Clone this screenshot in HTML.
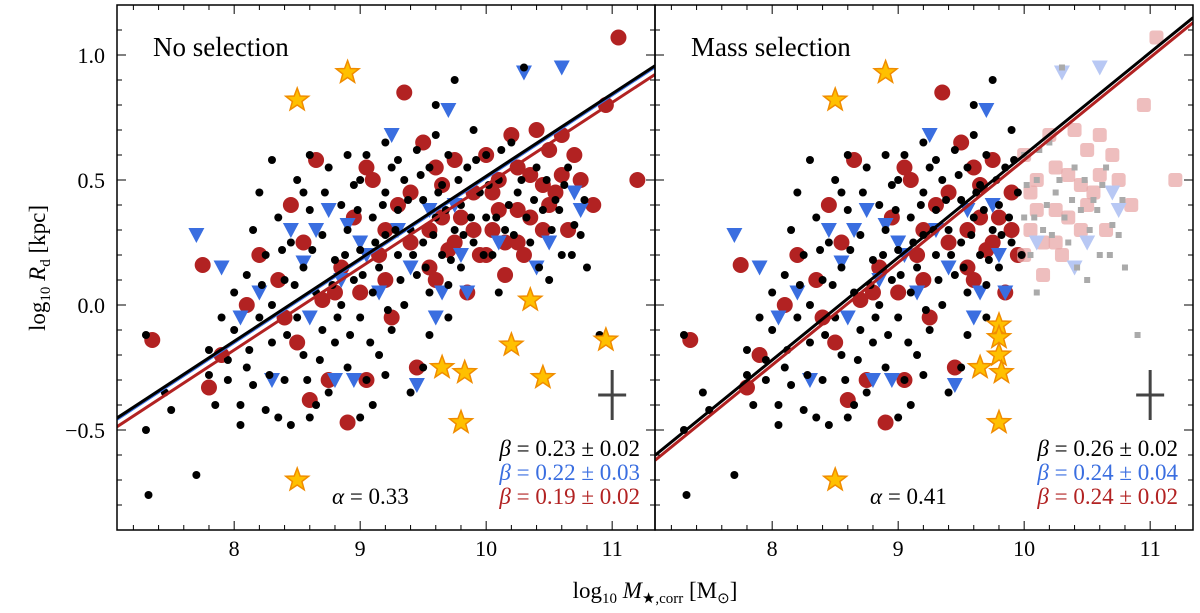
<!DOCTYPE html>
<html><head><meta charset="utf-8"><style>
html,body{margin:0;padding:0;background:#fff;}
svg{display:block;font-family:"Liberation Serif",serif;}
</style></head><body>
<svg id="chart" width="1200" height="613" viewBox="0 0 1200 613" xmlns="http://www.w3.org/2000/svg"></svg>
<script>
const blackPts=[[7.3,-0.12],[7.3,-0.5],[7.32,-0.76],[7.45,-0.35],[7.5,-0.42],[7.7,-0.68],[7.8,-0.18],[7.8,-0.28],[7.85,-0.4],[7.9,-0.05],[7.95,-0.3],[8.0,-0.1],[8.0,0.05],[8.05,-0.4],[8.1,0.12],[8.1,-0.25],[8.15,0.3],[8.2,-0.05],[8.2,0.45],[8.25,0.2],[8.3,-0.15],[8.3,0.0],[8.35,-0.45],[8.35,0.35],[8.4,0.1],[8.4,-0.3],[8.45,0.25],[8.5,-0.05],[8.5,0.5],[8.55,-0.2],[8.55,0.15],[8.6,0.38],[8.6,-0.45],[8.65,0.05],[8.7,-0.1],[8.7,0.28],[8.75,0.55],[8.75,-0.35],[8.8,0.18],[8.8,-0.15],[8.85,0.4],[8.85,0.0],[8.9,-0.25],[8.9,0.3],[8.95,0.1],[8.95,0.48],[9.0,-0.05],[9.0,0.22],[9.05,0.6],[9.05,-0.3],[9.1,0.35],[9.1,0.05],[9.15,0.15],[9.15,-0.2],[9.2,0.45],[9.2,0.28],[9.25,-0.1],[9.25,0.55],[9.3,0.2],[9.3,0.38],[9.35,0.0],[9.35,0.5],[9.4,0.3],[9.4,-0.35],[9.45,0.62],[9.45,0.12],[9.5,0.42],[9.5,0.25],[9.55,0.05],[9.55,0.55],[9.6,0.35],[9.6,0.8],[9.65,0.2],[9.65,0.48],[9.7,0.6],[9.7,-0.05],[9.75,0.3],[9.75,0.9],[9.8,0.4],[9.8,0.15],[9.85,0.55],[9.9,0.25],[9.9,0.7],[9.95,0.45],[10.0,0.35],[10.0,0.6],[10.05,0.2],[10.1,0.5],[10.1,0.05],[10.15,0.3],[10.2,0.65],[10.25,0.45],[10.3,0.95],[10.35,0.25],[10.4,0.55],[10.45,0.38],[10.5,0.1],[10.55,0.42],[10.6,0.2],[10.65,0.55],[10.7,0.32],[10.75,0.28],[10.8,0.15],[10.9,-0.12],[8.3,0.58],[8.6,0.6],[8.9,0.6],[9.2,0.65],[9.6,0.68],[9.1,-0.4],[8.45,-0.48],[8.25,-0.42],[9.5,-0.25],[9.0,-0.45],
[8.12,-0.18],[8.22,0.08],[8.28,-0.28],[8.38,0.22],[8.42,-0.12],[8.48,0.08],[8.58,-0.3],[8.62,0.22],[8.68,-0.22],[8.72,0.45],[8.78,0.08],[8.82,-0.05],[8.88,0.2],[8.92,-0.12],[8.98,0.38],[9.02,0.12],[9.08,-0.15],[9.12,0.25],[9.18,0.4],[9.22,-0.02],[9.28,0.3],[9.32,0.1],[9.38,0.42],[9.42,0.2],[9.48,0.52],[9.52,0.15],[9.58,0.28],[9.62,0.45],[9.68,0.38],[9.72,0.18],[9.78,0.5],[9.82,0.28],[9.88,0.35],[9.92,0.58],[9.98,0.2],[10.02,0.48],[10.08,0.35],[10.12,0.62],[10.18,0.4],[10.22,0.28],[10.28,0.5],[10.32,0.35],[10.38,0.42],[10.42,0.15],[10.48,0.5],[10.52,0.3],[10.58,0.38],[10.62,0.48],[10.68,0.2],[10.78,0.42],[8.05,-0.48],[7.95,-0.22],[8.15,-0.32],[9.0,0.5],[9.3,0.58],[8.65,-0.4],[9.2,-0.28],[9.55,-0.12],[9.7,0.08],[8.55,0.45]];
const redPts=[[7.35,-0.14],[7.75,0.16],[7.8,-0.33],[7.9,-0.2],[8.1,0.0],[8.2,0.2],[8.35,0.1],[8.45,0.4],[8.5,-0.15],[8.55,0.25],[8.6,-0.38],[8.65,0.58],[8.7,0.02],[8.75,-0.3],[8.85,0.15],[8.9,-0.47],[8.95,0.35],[9.0,0.05],[9.05,-0.3],[9.1,0.5],[9.15,0.2],[9.2,0.1],[9.25,-0.05],[9.3,0.4],[9.35,0.85],[9.4,0.25],[9.45,-0.25],[9.5,0.65],[9.55,0.3],[9.6,0.1],[9.65,0.48],[9.7,0.22],[9.75,0.58],[9.8,0.35],[9.85,0.05],[9.9,0.45],[9.95,0.2],[10.0,0.6],[10.05,0.3],[10.1,0.5],[10.15,0.12],[10.2,0.68],[10.25,0.38],[10.3,0.2],[10.35,0.52],[10.4,0.7],[10.45,0.3],[10.5,0.62],[10.55,0.45],[10.6,0.68],[10.65,0.3],[10.7,0.6],[10.75,0.5],[10.85,0.4],[10.95,0.8],[11.05,1.07],[11.2,0.5],[10.15,0.25],[9.05,0.55],[8.4,-0.05],[10.0,0.2],[9.4,0.45],
[9.55,0.15],[9.75,0.25],[9.9,0.3],[10.05,0.45],[10.25,0.55],[10.45,0.48],[10.6,0.52],[10.35,0.35],[10.1,0.38],[9.65,0.35],[9.2,0.3],[8.8,0.05],[9.6,0.55],[10.5,0.4],[10.25,0.25]];
const bluePts=[[7.7,0.28],[7.9,0.15],[8.05,-0.05],[8.2,0.05],[8.3,-0.3],[8.45,0.3],[8.55,0.17],[8.6,-0.05],[8.75,0.38],[8.8,-0.3],[8.85,0.1],[8.9,0.32],[8.95,-0.3],[9.05,0.2],[9.15,0.05],[9.25,0.68],[9.3,0.3],[9.4,0.15],[9.45,-0.32],[9.55,0.38],[9.65,0.05],[9.7,0.78],[9.75,0.4],[9.8,0.2],[9.85,0.05],[10.1,0.25],[10.3,0.93],[10.4,0.15],[10.5,0.25],[10.6,0.95],[10.75,0.38],[10.7,0.45],[9.0,0.25],[8.65,0.3],[9.6,-0.05]];
const starsLeft=[[8.5,0.82],[8.9,0.93],[10.35,0.02],[9.65,-0.25],[9.83,-0.27],[10.2,-0.16],[10.95,-0.14],[10.45,-0.29],[9.8,-0.47],[8.5,-0.70]];
const starsRight=[[8.5,0.82],[8.9,0.93],[9.8,-0.08],[9.8,-0.13],[9.8,-0.2],[9.65,-0.25],[9.82,-0.27],[9.8,-0.47],[8.5,-0.70]];
const xTicks=[8,9,10,11];
const yTicks=[-0.5,0.0,0.5,1.0];
const yTickLabels=["\u22120.5","0.0","0.5","1.0"];
const fitLeft=[{c:"#3a6ee0",a:0.18,b:0.33},{c:"#000",a:0.185,b:0.33},{c:"#b22222",a:0.15,b:0.33}];
const fitRight=[{c:"#b22222",a:0.17,b:0.41},{c:"#000",a:0.19,b:0.41}];
const betaLeft=["0.23 \u00b1 0.02","0.22 \u00b1 0.03","0.19 \u00b1 0.02"];
const betaRight=["0.26 \u00b1 0.02","0.24 \u00b1 0.04","0.24 \u00b1 0.02"];
const alphas=["0.33","0.41"];
const titles=["No selection","Mass selection"];

const NS="http://www.w3.org/2000/svg";
const svg=document.getElementById('chart');
const TOP=5,BOT=530,XMIN=7.07,XMAX=11.34;
function el(t,at,p){const e=document.createElementNS(NS,t);for(const k in at)e.setAttribute(k,at[k]);(p||svg).appendChild(e);return e;}
function Y(v){return 305-250*v;}
function mkX(x0){return v=>x0+(v-XMIN)*(538/(XMAX-XMIN));}
const clipDefs=el('defs',{});
const betaCols=["#000","#3a6ee0","#b22222"];

[0,1].forEach(pi=>{
  const x0=117+pi*538, X=mkX(x0);
  const cp=el('clipPath',{id:'cp'+pi},clipDefs);
  el('rect',{x:x0,y:TOP,width:538,height:BOT-TOP},cp);
  const g=el('g',{'clip-path':'url(#cp'+pi+')'});
  
  
  const faded=v=>pi===1&&v>=10;
  redPts.forEach(p=>{
    let e;
    if(faded(p[0])) e=el('rect',{x:X(p[0])-7,y:Y(p[1])-7,width:14,height:14,rx:3,fill:'#e8a8a8',opacity:0.75},g);
    else e=el('circle',{cx:X(p[0]),cy:Y(p[1]),r:8,fill:'#b22222'},g);
    
    
  });
  bluePts.forEach(p=>{
    const cx=X(p[0]),cy=Y(p[1]);
    const e=el('polygon',{points:`${cx-8},${cy-7} ${cx+8},${cy-7} ${cx},${cy+8}`,fill:faded(p[0])?'#b8c8f4':'#3a6ee0'},g);
    
    
  });
  blackPts.forEach(p=>{
    let e;
    if(faded(p[0])) e=el('rect',{x:X(p[0])-3,y:Y(p[1])-3,width:6,height:6,fill:'#aaa'},g);
    else e=el('circle',{cx:X(p[0]),cy:Y(p[1]),r:4,fill:'#000'},g);
    
    
  });
  (pi?fitRight:fitLeft).forEach(f=>{
    const e=el('line',{x1:X(XMIN),y1:Y(f.a+f.b*(XMIN-9)),x2:X(XMAX),y2:Y(f.a+f.b*(XMAX-9)),stroke:f.c,'stroke-width':3},g);
    
    
  });
  (pi?starsRight:starsLeft).forEach(p=>{
    const cx=X(p[0]),cy=Y(p[1]);let pts=[];
    for(let i=0;i<10;i++){const r=i%2?5:12,a=-Math.PI/2+i*Math.PI/5;pts.push((cx+r*Math.cos(a)).toFixed(1)+','+(cy+r*Math.sin(a)).toFixed(1));}
    const e=el('polygon',{points:pts.join(' '),fill:'#ffc000',stroke:'#f08c00','stroke-width':1.5},g);
    
    
  });
  const ex=X(11),ey=Y(-0.36);
  const eb=el('path',{d:`M${ex-14},${ey}H${ex+14}M${ex},${ey-25}V${ey+25}`,stroke:'#444','stroke-width':3,fill:'none'});
  
  
  const fr=el('rect',{x:x0,y:TOP,width:538,height:BOT-TOP,fill:'none',stroke:'#000','stroke-width':1.5});
  
  
  for(let v=7.2;v<=11.3;v+=0.2){const x=X(v);const major=Math.abs(v-Math.round(v))<0.01;const L=major?9:5;
    el('line',{x1:x,y1:BOT,x2:x,y2:BOT-L,stroke:'#000','stroke-width':1});el('line',{x1:x,y1:TOP,x2:x,y2:TOP+L,stroke:'#000','stroke-width':1});}
  for(let v=-0.9;v<=1.15;v+=0.1){const y=Y(v);const major=Math.abs(v*2-Math.round(v*2))<0.01;const L=major?9:5;
    el('line',{x1:x0,y1:y,x2:x0+L,y2:y,stroke:'#000','stroke-width':1});el('line',{x1:x0+538,y1:y,x2:x0+538-L,y2:y,stroke:'#000','stroke-width':1});}
  xTicks.forEach(v=>{const t=el('text',{x:X(v),y:556,'font-size':22,'text-anchor':'middle'});t.textContent=v;
    });
  if(pi===0) yTicks.forEach((v,i)=>{const t=el('text',{x:105,y:Y(v)+8,'font-size':22,'text-anchor':'end'});t.textContent=yTickLabels[i];
    });
  const tt=el('text',{x:x0+36,y:56,'font-size':27});tt.textContent=titles[pi];
  
  (pi?betaRight:betaLeft).forEach((s,i)=>{
    const t=el('text',{x:x0+523,y:456+i*24,'font-size':23,'text-anchor':'end',fill:betaCols[i]});
    t.innerHTML='<tspan font-style="italic">β</tspan> = '+s;
    
  });
  const at=el('text',{x:x0+215,y:504,'font-size':23});
  at.innerHTML='<tspan font-style="italic">α</tspan> = '+alphas[pi];
  
});
const xl=el('text',{x:655,y:598,'font-size':23,'text-anchor':'middle'});
xl.innerHTML='log<tspan font-size="15" dy="5">10</tspan><tspan dy="-5"> </tspan><tspan font-style="italic">M</tspan><tspan font-size="15" dy="5">★,corr</tspan><tspan dy="-5"> [M</tspan><tspan font-size="15" dy="5">⊙</tspan><tspan dy="-5">]</tspan>';

const yl=el('text',{x:0,y:0,'font-size':23,'text-anchor':'middle',transform:'translate(45,268) rotate(-90)'});
yl.innerHTML='log<tspan font-size="15" dy="5">10</tspan><tspan dy="-5"> </tspan><tspan font-style="italic">R</tspan><tspan font-size="15" dy="5">d</tspan><tspan dy="-5"> [kpc]</tspan>';

</script>
</body></html>
